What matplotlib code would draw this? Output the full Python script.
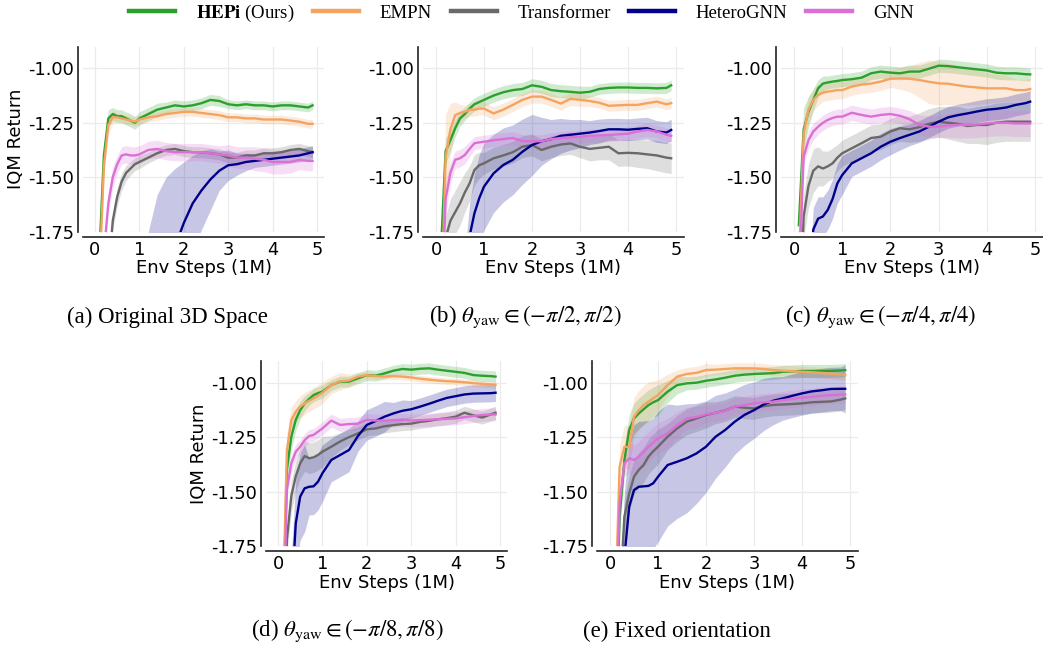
import numpy as np
import matplotlib.pyplot as plt
from matplotlib.ticker import FormatStrFormatter

plt.rcParams['mathtext.fontset'] = 'stix'
plt.rcParams['axes.unicode_minus'] = False

# env steps (millions)
steps = [0.1, 0.2, 0.3, 0.4, 0.5, 0.6, 0.7, 0.8, 0.9, 1.0,
         1.2, 1.4, 1.6, 1.8, 2.0, 2.2, 2.4, 2.6, 2.8, 3.0,
         3.2, 3.4, 3.6, 3.8, 4.0, 4.2, 4.4, 4.6, 4.8, 4.9]

methods = ['HEPi', 'EMPN', 'Transformer', 'HeteroGNN', 'GNN']
colors = ['#2ca02c', '#f4a460', '#696969', '#00008b', '#da70d6']

# (a) original 3D space
hepi_a = [-1.85, -1.40, -1.23, -1.21, -1.22, -1.22, -1.23, -1.24, -1.25, -1.23,
          -1.21, -1.19, -1.18, -1.17, -1.175, -1.17, -1.16, -1.145, -1.15, -1.165,
          -1.17, -1.165, -1.17, -1.17, -1.175, -1.17, -1.17, -1.175, -1.18, -1.17]
empn_a = [-1.95, -1.45, -1.26, -1.225, -1.225, -1.23, -1.235, -1.24, -1.245, -1.235,
          -1.225, -1.22, -1.21, -1.205, -1.20, -1.20, -1.205, -1.21, -1.215, -1.225,
          -1.225, -1.23, -1.23, -1.235, -1.235, -1.235, -1.24, -1.245, -1.255, -1.255]
trans_a = [-2.6, -2.3, -1.95, -1.70, -1.59, -1.52, -1.48, -1.46, -1.44, -1.43,
           -1.41, -1.39, -1.375, -1.37, -1.38, -1.385, -1.385, -1.39, -1.395, -1.41,
           -1.41, -1.40, -1.40, -1.39, -1.39, -1.385, -1.375, -1.37, -1.38, -1.385]
hetero_a = [-2.6, -2.6, -2.6, -2.55, -2.5, -2.45, -2.4, -2.35, -2.3, -2.25,
            -2.10, -2.0, -1.92, -1.82, -1.71, -1.62, -1.56, -1.51, -1.47, -1.445,
            -1.44, -1.43, -1.425, -1.42, -1.415, -1.41, -1.405, -1.40, -1.39, -1.385]
gnn_a = [-2.4, -1.85, -1.62, -1.50, -1.44, -1.40, -1.395, -1.40, -1.40, -1.395,
         -1.375, -1.37, -1.38, -1.385, -1.385, -1.385, -1.385, -1.39, -1.395, -1.40,
         -1.41, -1.41, -1.415, -1.42, -1.43, -1.43, -1.43, -1.42, -1.425, -1.425]
hepi_a_ci = [0.06, 0.05, 0.04, 0.03, 0.03, 0.03, 0.03, 0.03, 0.03, 0.03,
             0.03, 0.03, 0.025, 0.025, 0.025, 0.025, 0.025, 0.025, 0.025, 0.02,
             0.02, 0.02, 0.02, 0.02, 0.02, 0.02, 0.02, 0.02, 0.02, 0.02]
empn_a_ci = [0.05, 0.05, 0.04, 0.03, 0.02, 0.02, 0.02, 0.02, 0.02, 0.02,
             0.02, 0.02, 0.02, 0.02, 0.02, 0.02, 0.02, 0.02, 0.02, 0.02,
             0.02, 0.02, 0.02, 0.02, 0.02, 0.02, 0.02, 0.02, 0.02, 0.02]
trans_a_ci = [0.04, 0.04, 0.04, 0.04, 0.04, 0.04, 0.035, 0.03, 0.03, 0.03,
              0.025, 0.025, 0.025, 0.025, 0.025, 0.025, 0.025, 0.025, 0.025, 0.025,
              0.025, 0.025, 0.025, 0.025, 0.025, 0.025, 0.025, 0.025, 0.025, 0.025]
hetero_a_ci = [0.2, 0.2, 0.2, 0.2, 0.2, 0.2, 0.2, 0.2, 0.2, 0.2,
               0.35, 0.42, 0.42, 0.36, 0.28, 0.22, 0.18, 0.14, 0.09, 0.07,
               0.05, 0.04, 0.03, 0.03, 0.03, 0.03, 0.03, 0.03, 0.03, 0.03]
gnn_a_ci = [0.05, 0.05, 0.05, 0.05, 0.04, 0.04, 0.04, 0.04, 0.04, 0.04,
            0.04, 0.04, 0.04, 0.04, 0.04, 0.04, 0.04, 0.04, 0.04, 0.05,
            0.05, 0.05, 0.055, 0.055, 0.055, 0.055, 0.05, 0.045, 0.045, 0.045]

# (b) yaw in (-pi/2, pi/2)
hepi_b = [-1.85, -1.38, -1.33, -1.275, -1.23, -1.21, -1.185, -1.165, -1.155, -1.145,
          -1.125, -1.11, -1.10, -1.095, -1.078, -1.085, -1.10, -1.105, -1.108, -1.112,
          -1.108, -1.095, -1.09, -1.088, -1.088, -1.09, -1.09, -1.092, -1.09, -1.078]
empn_b = [-2.2, -1.41, -1.28, -1.215, -1.205, -1.20, -1.19, -1.19, -1.185, -1.185,
          -1.207, -1.19, -1.168, -1.145, -1.13, -1.13, -1.145, -1.162, -1.14, -1.145,
          -1.15, -1.158, -1.172, -1.17, -1.168, -1.168, -1.16, -1.153, -1.165, -1.16]
trans_b = [-2.4, -1.78, -1.70, -1.66, -1.62, -1.57, -1.528, -1.467, -1.445, -1.436,
           -1.413, -1.40, -1.385, -1.36, -1.352, -1.375, -1.36, -1.35, -1.345, -1.36,
           -1.37, -1.365, -1.36, -1.39, -1.388, -1.39, -1.395, -1.40, -1.41, -1.413]
hetero_b = [-2.6, -2.5, -2.4, -2.3, -2.15, -1.95, -1.77, -1.666, -1.597, -1.543,
            -1.482, -1.444, -1.42, -1.383, -1.352, -1.335, -1.325, -1.31, -1.305, -1.30,
            -1.295, -1.288, -1.28, -1.28, -1.282, -1.278, -1.275, -1.29, -1.295, -1.283]
gnn_b = [-2.2, -1.60, -1.48, -1.42, -1.413, -1.398, -1.37, -1.344, -1.34, -1.337,
         -1.33, -1.325, -1.32, -1.334, -1.335, -1.335, -1.325, -1.32, -1.317, -1.314,
         -1.31, -1.308, -1.306, -1.303, -1.30, -1.29, -1.283, -1.29, -1.305, -1.31]
hepi_b_ci = [0.06, 0.06, 0.05, 0.04, 0.035, 0.03, 0.03, 0.03, 0.03, 0.03,
             0.03, 0.03, 0.03, 0.03, 0.03, 0.03, 0.03, 0.03, 0.03, 0.03,
             0.025, 0.025, 0.025, 0.025, 0.025, 0.025, 0.025, 0.025, 0.025, 0.025]
empn_b_ci = [0.1, 0.2, 0.12, 0.06, 0.04, 0.03, 0.03, 0.03, 0.03, 0.03,
             0.03, 0.03, 0.03, 0.03, 0.03, 0.03, 0.03, 0.03, 0.03, 0.03,
             0.025, 0.025, 0.025, 0.025, 0.025, 0.025, 0.025, 0.025, 0.025, 0.025]
trans_b_ci = [0.1, 0.1, 0.1, 0.1, 0.1, 0.09, 0.08, 0.07, 0.06, 0.05,
              0.05, 0.05, 0.05, 0.05, 0.05, 0.05, 0.05, 0.05, 0.05, 0.05,
              0.055, 0.055, 0.06, 0.06, 0.06, 0.065, 0.065, 0.07, 0.07, 0.07]
hetero_b_ci = [0.1, 0.1, 0.1, 0.1, 0.1, 0.1, 0.15, 0.18, 0.2, 0.2,
               0.18, 0.17, 0.16, 0.15, 0.14, 0.11, 0.09, 0.08, 0.07, 0.065,
               0.055, 0.055, 0.05, 0.05, 0.05, 0.05, 0.05, 0.05, 0.05, 0.05]
gnn_b_ci = [0.05, 0.08, 0.05, 0.04, 0.04, 0.04, 0.035, 0.03, 0.03, 0.03,
            0.03, 0.03, 0.03, 0.03, 0.03, 0.03, 0.03, 0.03, 0.03, 0.03,
            0.03, 0.03, 0.03, 0.03, 0.03, 0.03, 0.03, 0.03, 0.03, 0.03]

# (c) yaw in (-pi/4, pi/4)
hepi_c = [-1.72, -1.28, -1.20, -1.145, -1.092, -1.07, -1.065, -1.061, -1.058, -1.054,
          -1.05, -1.043, -1.023, -1.015, -1.02, -1.023, -1.015, -1.015, -1.002, -0.988,
          -0.99, -0.995, -1.00, -1.005, -1.01, -1.02, -1.023, -1.023, -1.027, -1.028]
empn_c = [-1.9, -1.30, -1.19, -1.145, -1.122, -1.112, -1.107, -1.104, -1.10, -1.10,
          -1.084, -1.075, -1.07, -1.061, -1.048, -1.046, -1.048, -1.054, -1.062, -1.069,
          -1.071, -1.078, -1.084, -1.088, -1.092, -1.092, -1.092, -1.10, -1.10, -1.095]
trans_c = [-2.3, -1.68, -1.54, -1.47, -1.45, -1.46, -1.45, -1.436, -1.41, -1.39,
           -1.367, -1.344, -1.32, -1.314, -1.29, -1.275, -1.28, -1.27, -1.255, -1.245,
           -1.25, -1.255, -1.265, -1.26, -1.26, -1.25, -1.245, -1.245, -1.245, -1.245]
hetero_c = [-2.6, -2.4, -2.1, -1.74, -1.69, -1.68, -1.65, -1.60, -1.528, -1.49,
            -1.436, -1.413, -1.39, -1.36, -1.337, -1.32, -1.305, -1.29, -1.268, -1.245,
            -1.225, -1.215, -1.207, -1.198, -1.19, -1.186, -1.18, -1.168, -1.16, -1.153]
gnn_c = [-2.0, -1.406, -1.33, -1.29, -1.268, -1.25, -1.237, -1.228, -1.222, -1.222,
         -1.204, -1.214, -1.222, -1.214, -1.21, -1.218, -1.234, -1.26, -1.268, -1.268,
         -1.262, -1.26, -1.26, -1.258, -1.253, -1.25, -1.25, -1.253, -1.253, -1.253]
hepi_c_ci = [0.1, 0.1, 0.07, 0.05, 0.04, 0.035, 0.03, 0.03, 0.03, 0.03,
             0.03, 0.03, 0.03, 0.03, 0.03, 0.03, 0.03, 0.03, 0.03, 0.03,
             0.03, 0.03, 0.03, 0.03, 0.03, 0.03, 0.03, 0.03, 0.03, 0.03]
empn_c_ci = [0.06, 0.06, 0.06, 0.05, 0.05, 0.04, 0.04, 0.04, 0.04, 0.04,
             0.04, 0.04, 0.04, 0.04, 0.04, 0.05, 0.06, 0.08, 0.1, 0.1,
             0.095, 0.09, 0.085, 0.08, 0.07, 0.065, 0.06, 0.05, 0.05, 0.05]
trans_c_ci = [0.1, 0.1, 0.1, 0.1, 0.09, 0.08, 0.07, 0.07, 0.06, 0.06,
              0.06, 0.06, 0.06, 0.06, 0.06, 0.06, 0.06, 0.065, 0.07, 0.07,
              0.075, 0.08, 0.08, 0.085, 0.09, 0.09, 0.09, 0.09, 0.09, 0.09]
hetero_c_ci = [0.1, 0.1, 0.1, 0.1, 0.1, 0.09, 0.09, 0.09, 0.09, 0.09,
               0.06, 0.06, 0.06, 0.06, 0.06, 0.055, 0.05, 0.05, 0.05, 0.05,
               0.05, 0.05, 0.05, 0.05, 0.05, 0.05, 0.05, 0.05, 0.05, 0.05]
gnn_c_ci = [0.04, 0.04, 0.04, 0.04, 0.035, 0.035, 0.035, 0.035, 0.035, 0.035,
            0.035, 0.035, 0.035, 0.035, 0.035, 0.035, 0.04, 0.045, 0.05, 0.05,
            0.055, 0.06, 0.06, 0.06, 0.06, 0.06, 0.06, 0.06, 0.06, 0.06]

# (d) yaw in (-pi/8, pi/8)
hepi_d = [-2.2, -1.40, -1.248, -1.171, -1.126, -1.095, -1.075, -1.057, -1.048, -1.041,
          -1.011, -0.995, -0.995, -0.98, -0.965, -0.968, -0.957, -0.945, -0.937, -0.94,
          -0.936, -0.934, -0.94, -0.945, -0.95, -0.955, -0.965, -0.968, -0.97, -0.972]
empn_d = [-2.1, -1.31, -1.171, -1.133, -1.11, -1.095, -1.083, -1.072, -1.06, -1.046,
          -1.011, -0.993, -0.99, -0.972, -0.965, -0.97, -0.972, -0.97, -0.972, -0.976,
          -0.982, -0.986, -0.99, -0.993, -0.995, -0.998, -1.002, -1.005, -1.008, -1.009]
trans_d = [-2.5, -1.72, -1.52, -1.43, -1.37, -1.337, -1.347, -1.343, -1.332, -1.317,
           -1.294, -1.27, -1.25, -1.233, -1.214, -1.21, -1.20, -1.195, -1.19, -1.188,
           -1.18, -1.175, -1.168, -1.163, -1.156, -1.138, -1.15, -1.16, -1.145, -1.138]
hetero_d = [-2.8, -2.5, -2.0, -1.646, -1.523, -1.485, -1.478, -1.476, -1.455, -1.416,
            -1.355, -1.332, -1.309, -1.245, -1.194, -1.176, -1.156, -1.141, -1.129, -1.122,
            -1.11, -1.097, -1.083, -1.07, -1.062, -1.054, -1.05, -1.049, -1.048, -1.046]
gnn_d = [-2.3, -1.49, -1.37, -1.317, -1.294, -1.264, -1.245, -1.24, -1.225, -1.21,
         -1.174, -1.194, -1.19, -1.188, -1.171, -1.174, -1.174, -1.172, -1.171, -1.174,
         -1.172, -1.17, -1.168, -1.166, -1.164, -1.158, -1.153, -1.148, -1.146, -1.146]
hepi_d_ci = [0.06, 0.06, 0.06, 0.05, 0.04, 0.035, 0.03, 0.03, 0.03, 0.03,
             0.025, 0.025, 0.025, 0.025, 0.025, 0.025, 0.025, 0.025, 0.025, 0.025,
             0.025, 0.025, 0.025, 0.025, 0.025, 0.025, 0.025, 0.025, 0.025, 0.025]
empn_d_ci = [0.08, 0.08, 0.06, 0.05, 0.05, 0.05, 0.05, 0.05, 0.05, 0.05,
             0.04, 0.04, 0.03, 0.02, 0.015, 0.015, 0.015, 0.015, 0.015, 0.015,
             0.015, 0.015, 0.015, 0.015, 0.015, 0.015, 0.015, 0.015, 0.015, 0.015]
trans_d_ci = [0.07, 0.07, 0.07, 0.07, 0.07, 0.07, 0.07, 0.07, 0.07, 0.07,
              0.05, 0.04, 0.035, 0.03, 0.03, 0.03, 0.03, 0.03, 0.03, 0.03,
              0.03, 0.03, 0.03, 0.03, 0.03, 0.03, 0.03, 0.03, 0.03, 0.03]
hetero_d_ci = [0.15, 0.15, 0.2, 0.2, 0.2, 0.2, 0.13, 0.13, 0.13, 0.13,
               0.1, 0.1, 0.1, 0.07, 0.07, 0.07, 0.07, 0.05, 0.05, 0.04,
               0.04, 0.04, 0.04, 0.04, 0.04, 0.04, 0.04, 0.04, 0.04, 0.04]
gnn_d_ci = [0.04, 0.04, 0.04, 0.035, 0.03, 0.03, 0.03, 0.03, 0.03, 0.03,
            0.03, 0.03, 0.03, 0.03, 0.03, 0.03, 0.03, 0.03, 0.03, 0.03,
            0.03, 0.03, 0.03, 0.03, 0.03, 0.03, 0.03, 0.03, 0.03, 0.03]

# (e) fixed orientation
hepi_e = [-2.4, -1.615, -1.355, -1.217, -1.164, -1.141, -1.122, -1.103, -1.09, -1.08,
          -1.041, -1.011, -1.003, -1.00, -0.991, -0.985, -0.977, -0.968, -0.963, -0.96,
          -0.958, -0.956, -0.95, -0.948, -0.946, -0.946, -0.946, -0.946, -0.944, -0.942]
empn_e = [-2.1, -1.386, -1.294, -1.296, -1.156, -1.126, -1.103, -1.087, -1.072, -1.057,
          -1.011, -0.972, -0.96, -0.955, -0.942, -0.94, -0.937, -0.934, -0.934, -0.934,
          -0.937, -0.942, -0.945, -0.947, -0.95, -0.952, -0.955, -0.958, -0.962, -0.965]
trans_e = [-2.6, -2.0, -1.615, -1.508, -1.432, -1.40, -1.378, -1.34, -1.315, -1.294,
           -1.248, -1.21, -1.179, -1.164, -1.148, -1.138, -1.128, -1.11, -1.115, -1.118,
           -1.108, -1.102, -1.10, -1.098, -1.095, -1.09, -1.088, -1.086, -1.078, -1.072]
hetero_e = [-2.8, -2.3, -1.8, -1.57, -1.493, -1.478, -1.476, -1.474, -1.462, -1.432,
            -1.378, -1.363, -1.347, -1.325, -1.294, -1.248, -1.217, -1.179, -1.148, -1.126,
            -1.10, -1.083, -1.072, -1.06, -1.049, -1.04, -1.035, -1.029, -1.028, -1.028]
gnn_e = [-2.3, -1.55, -1.37, -1.347, -1.355, -1.34, -1.317, -1.294, -1.275, -1.256,
         -1.233, -1.194, -1.164, -1.158, -1.145, -1.138, -1.13, -1.11, -1.103, -1.095,
         -1.09, -1.087, -1.08, -1.075, -1.069, -1.065, -1.06, -1.057, -1.055, -1.054]
hepi_e_ci = [0.07, 0.07, 0.07, 0.07, 0.07, 0.07, 0.07, 0.07, 0.07, 0.07,
             0.05, 0.04, 0.03, 0.03, 0.03, 0.03, 0.03, 0.03, 0.03, 0.03,
             0.03, 0.03, 0.03, 0.03, 0.03, 0.03, 0.03, 0.03, 0.03, 0.03]
empn_e_ci = [0.1, 0.1, 0.1, 0.1, 0.09, 0.09, 0.09, 0.09, 0.08, 0.07,
             0.05, 0.03, 0.03, 0.03, 0.03, 0.025, 0.025, 0.025, 0.025, 0.025,
             0.025, 0.025, 0.025, 0.025, 0.025, 0.025, 0.025, 0.025, 0.025, 0.025]
trans_e_ci = [0.08, 0.08, 0.08, 0.08, 0.08, 0.08, 0.08, 0.08, 0.08, 0.08,
              0.06, 0.06, 0.06, 0.06, 0.06, 0.05, 0.05, 0.05, 0.05, 0.05,
              0.05, 0.05, 0.05, 0.05, 0.05, 0.05, 0.05, 0.05, 0.05, 0.05]
hetero_e_ci = [0.3, 0.3, 0.3, 0.3, 0.3, 0.3, 0.3, 0.3, 0.3, 0.3,
               0.28, 0.26, 0.25, 0.23, 0.21, 0.19, 0.17, 0.15, 0.14, 0.13,
               0.12, 0.11, 0.1, 0.1, 0.1, 0.1, 0.1, 0.1, 0.1, 0.11]
gnn_e_ci = [0.06, 0.06, 0.06, 0.07, 0.07, 0.07, 0.07, 0.07, 0.07, 0.07,
            0.07, 0.06, 0.05, 0.05, 0.04, 0.04, 0.04, 0.04, 0.04, 0.04,
            0.04, 0.04, 0.04, 0.04, 0.04, 0.04, 0.04, 0.04, 0.04, 0.04]

captions = ['(a) Original 3D Space',
            r'(b) $\theta_{\mathrm{yaw}} \in (-\pi/2, \pi/2)$',
            r'(c) $\theta_{\mathrm{yaw}} \in (-\pi/4, \pi/4)$',
            r'(d) $\theta_{\mathrm{yaw}} \in (-\pi/8, \pi/8)$',
            '(e) Fixed orientation']

panels = [
    [(hepi_a, hepi_a_ci), (empn_a, empn_a_ci), (trans_a, trans_a_ci), (hetero_a, hetero_a_ci), (gnn_a, gnn_a_ci)],
    [(hepi_b, hepi_b_ci), (empn_b, empn_b_ci), (trans_b, trans_b_ci), (hetero_b, hetero_b_ci), (gnn_b, gnn_b_ci)],
    [(hepi_c, hepi_c_ci), (empn_c, empn_c_ci), (trans_c, trans_c_ci), (hetero_c, hetero_c_ci), (gnn_c, gnn_c_ci)],
    [(hepi_d, hepi_d_ci), (empn_d, empn_d_ci), (trans_d, trans_d_ci), (hetero_d, hetero_d_ci), (gnn_d, gnn_d_ci)],
    [(hepi_e, hepi_e_ci), (empn_e, empn_e_ci), (trans_e, trans_e_ci), (hetero_e, hetero_e_ci), (gnn_e, gnn_e_ci)],
]

# layout in pixels: x of tick 0, x of tick 5, y of -1.00, y of -1.75, caption centre
W, H = 1043, 649
layout = [(95, 317, 68.3, 231.7, (167, 317)),
          (436, 676, 68.3, 231.7, (525, 317)),
          (794, 1035, 68.3, 231.7, (881, 317)),
          (278, 500, 382.7, 546.0, (347, 631)),
          (610, 850, 382.7, 546.0, (677, 631))]
XLIM = (-0.27, 5.16)
YLIM = (-1.75, -0.9)

fig = plt.figure(figsize=(W / 100, H / 100), dpi=100)
x = np.array(steps)

for i, (series, (x0, x5, y1, y175, cap)) in enumerate(zip(panels, layout)):
    sx = (x5 - x0) / 5.0
    sy = (y175 - y1) / 0.75
    left = x0 + XLIM[0] * sx
    right = x0 + XLIM[1] * sx
    top = y1 - 0.1 * sy
    ax = fig.add_axes([left / W, 1 - y175 / H, (right - left) / W, (y175 - top) / H])

    for (mean, ci), c in zip(series, colors):
        m = np.array(mean)
        e = np.array(ci)
        ax.fill_between(x, m - e, m + e, color=c, alpha=0.22, lw=0)
        ax.plot(x, m, color=c, lw=1.7)

    ax.set_xlim(*XLIM)
    ax.set_ylim(*YLIM)
    ax.set_xticks([0, 1, 2, 3, 4, 5])
    ax.set_yticks([-1.75, -1.5, -1.25, -1.0])
    ax.yaxis.set_major_formatter(FormatStrFormatter('%.2f'))
    ax.grid(color='#ebebeb', lw=0.9)
    ax.set_axisbelow(True)
    for s in ['top', 'right']:
        ax.spines[s].set_visible(False)
    for s in ['left', 'bottom']:
        ax.spines[s].set_position(('outward', 3.5))
        ax.spines[s].set_color('#222222')
        ax.spines[s].set_linewidth(1.2)
    ax.tick_params(length=0, pad=3, labelsize=12.8, colors='black')
    ax.set_xlabel('Env Steps (1M)', fontsize=13, labelpad=0.5)
    if i in (0, 3):
        ax.set_ylabel('IQM Return', fontsize=13, labelpad=2)

    fig.text(cap[0] / W, 1 - cap[1] / H, captions[i], ha='center', va='center',
             fontsize=16.5, family='Liberation Serif')

handles = [plt.Line2D([], [], color=c, lw=3.2) for c in colors]
labels = [r'$\mathbf{HEPi}$ (Ours)'] + methods[1:]
fig.legend(handles, labels, loc='center', bbox_to_anchor=(521.5 / W, 1 - 13 / H),
           ncol=5, frameon=False, prop={'family': 'Liberation Serif', 'size': 13.5},
           handlelength=2.45, handletextpad=1.1, columnspacing=1.0, borderaxespad=0)

fig.savefig('out.png', dpi=100)
